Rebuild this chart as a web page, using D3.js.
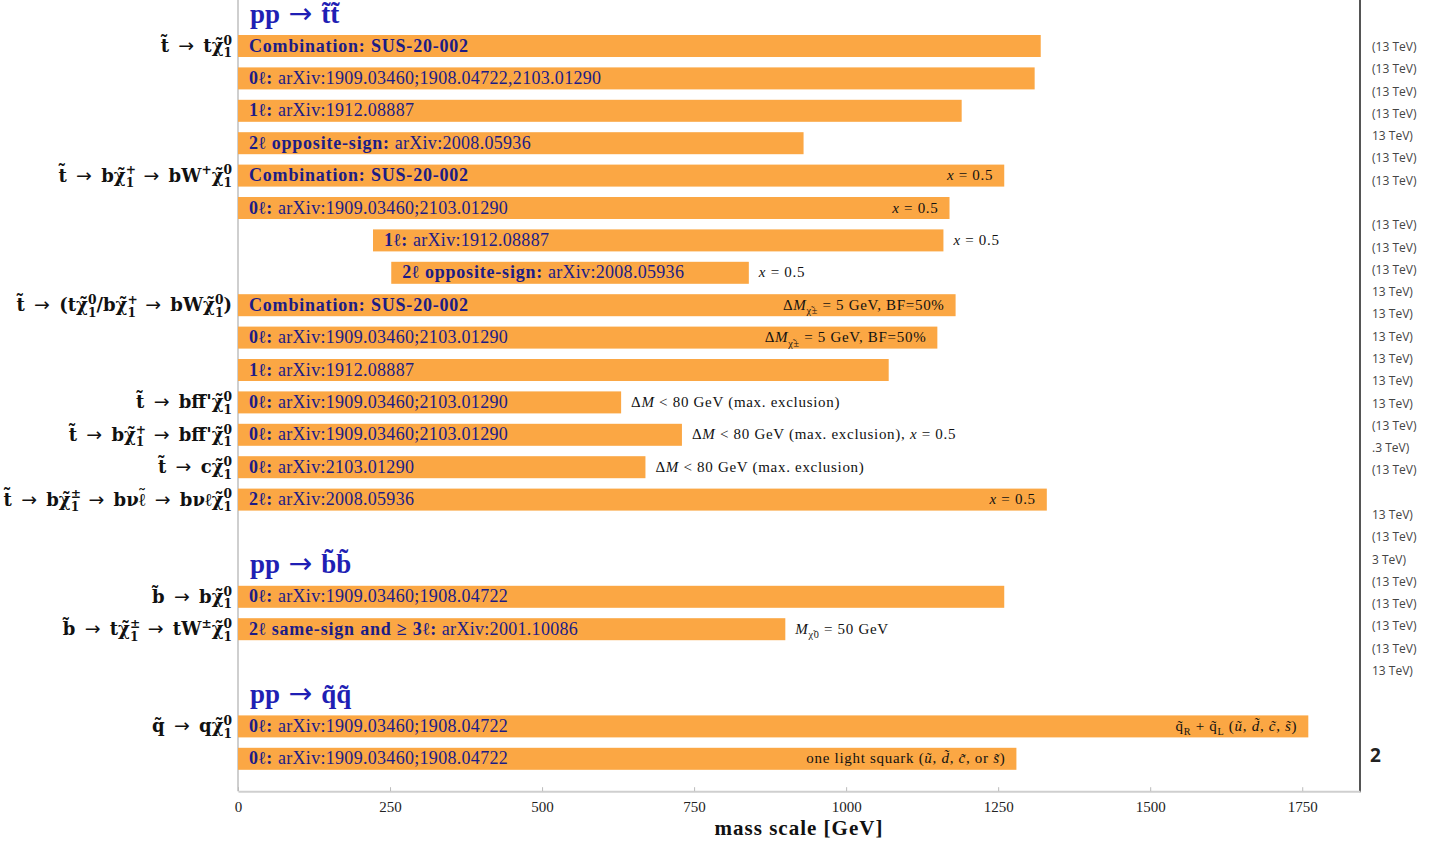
<!DOCTYPE html>
<html>
<head>
<meta charset="utf-8">
<script src="https://cdn.jsdelivr.net/npm/d3@7"></script>
<style>
  html, body { margin: 0; padding: 0; background: #fff; }
  svg { display: block; }
</style>
</head>
<body>
<script>
// ---- data -------------------------------------------------------------
// row slot of each bar (slots also hold the process headers and gaps)
const barSlots  = [1, 2, 3, 4, 5, 6, 7, 8, 9, 10, 11, 12, 13, 14, 15, 18, 19, 22, 23];
// lower and upper edge of each excluded mass range [GeV]
const barStarts = [0, 0, 0, 0, 0, 0, 222, 252, 0, 0, 0, 0, 0, 0, 0, 0, 0, 0, 0];
const barEnds   = [1320, 1310, 1190, 930, 1260, 1170, 1160, 840, 1180, 1150, 1070, 630, 730, 670, 1330, 1260, 900, 1760, 1280];
const barTagBold = [
  "Combination: SUS-20-002", "0ℓ:", "1ℓ:", "2ℓ opposite-sign:",
  "Combination: SUS-20-002", "0ℓ:", "1ℓ:", "2ℓ opposite-sign:",
  "Combination: SUS-20-002", "0ℓ:", "1ℓ:",
  "0ℓ:", "0ℓ:", "0ℓ:", "2ℓ:",
  "0ℓ:", "2ℓ same-sign and ≥ 3ℓ:",
  "0ℓ:", "0ℓ:"
];
const barRefs = [
  "", " arXiv:1909.03460;1908.04722,2103.01290", " arXiv:1912.08887", " arXiv:2008.05936",
  "", " arXiv:1909.03460;2103.01290", " arXiv:1912.08887", " arXiv:2008.05936",
  "", " arXiv:1909.03460;2103.01290", " arXiv:1912.08887",
  " arXiv:1909.03460;2103.01290", " arXiv:1909.03460;2103.01290", " arXiv:2103.01290", " arXiv:2008.05936",
  " arXiv:1909.03460;1908.04722", " arXiv:2001.10086",
  " arXiv:1909.03460;1908.04722", " arXiv:1909.03460;1908.04722"
];
// extra conditions ("in" = right-aligned inside the bar, "out" = after the bar)
const barNotes = [
  "", "", "", "",
  "|x| = 0.5", "|x| = 0.5", "|x| = 0.5", "|x| = 0.5",
  "Δ|M|_{χ̃±} = 5 GeV, BF=50%", "Δ|M|_{χ̃±} = 5 GeV, BF=50%", "",
  "Δ|M| < 80 GeV (max. exclusion)", "Δ|M| < 80 GeV (max. exclusion), |x| = 0.5", "Δ|M| < 80 GeV (max. exclusion)", "|x| = 0.5",
  "", "|M|_{χ̃0} = 50 GeV",
  "q̃_{R} + q̃_{L} (|ũ|, |d̃|, |c̃|, |s̃|)", "one light squark (|ũ|, |d̃|, |c̃|, or |s̃|)"
];
const notePlace = [
  "", "", "", "",
  "in", "in", "out", "out",
  "in", "in", "",
  "out", "out", "out", "in",
  "", "out",
  "in", "in"
];

// decay chains on the left (~{c} puts a tilde over c)
const decaySlots = [1, 5, 9, 12, 13, 14, 15, 18, 19, 22];
const decayLabels = [
  "t̃ → tχ̃^{0}_{1}",
  "t̃ → bχ̃^{+}_{1} → bW^{+}χ̃^{0}_{1}",
  "t̃ → (tχ̃^{0}_{1}/bχ̃^{+}_{1} → bWχ̃^{0}_{1})",
  "t̃ → bff̄'χ̃^{0}_{1}",
  "t̃ → bχ̃^{+}_{1} → bff̄'χ̃^{0}_{1}",
  "t̃ → cχ̃^{0}_{1}",
  "t̃ → bχ̃^{±}_{1} → bν~{ℓ} → bνℓχ̃^{0}_{1}",
  "b̃ → bχ̃^{0}_{1}",
  "b̃ → tχ̃^{±}_{1} → tW^{±}χ̃^{0}_{1}",
  "q̃ → qχ̃^{0}_{1}"
];

// production processes
const headerSlots  = [0, 17, 21];
const headerLabels = ["pp → t̃t̃", "pp → b̃b̃", "pp → q̃q̃"];

// x axis
const massTicks = [0, 250, 500, 750, 1000, 1250, 1500, 1750];
const massMax = 1845;
const slotCount = 24;

// energy labels in the right margin (null = empty line)
const energyLabels = [
  "(13 TeV)", "(13 TeV)", "(13 TeV)", "(13 TeV)", "13 TeV)", "(13 TeV)", "(13 TeV)", null,
  "(13 TeV)", "(13 TeV)", "(13 TeV)", "13 TeV)", "13 TeV)", "13 TeV)", "13 TeV)", "13 TeV)",
  "13 TeV)", "(13 TeV)", ".3 TeV)", "(13 TeV)", null,
  "13 TeV)", "(13 TeV)", "3 TeV)", "(13 TeV)", "(13 TeV)", "(13 TeV)", "(13 TeV)", "13 TeV)"
];
const pageMark = "2";

// ---- drawing ----------------------------------------------------------
const W = 1431, H = 843;
const SERIF = "'Liberation Serif', 'DejaVu Serif', serif";
const MATH = "'DejaVu Serif', 'Liberation Serif', serif";
const ARROW = "'DejaVu Sans', sans-serif";
const SANS = "'Open Sans', 'DejaVu Sans', sans-serif";
const BAR = "#fba744";
const INK_BLUE = "#1c1c86";
const HEAD_BLUE = "#1f1fb4";

const svg = d3.select("body").append("svg").attr("width", W).attr("height", H);

const x = d3.scaleLinear().domain([0, massMax]).range([238, 1360]);
const y = d3.scaleLinear().domain([0, slotCount]).range([13.6, 791.2]);
const barH = 22;

// small markup: ^{..} superscript, _{..} subscript (stacked when following ^{..}),
// |..| italic, ~{c} tilde accent; arrows are set in a sans face so they come out long and thin
function rich(textSel, str, size, arrowGap) {
  const re = /\^\{([^}]*)\}(?:_\{([^}]*)\})?|_\{([^}]*)\}|\|([^|]*)\||~\{([^}]*)\}|([^\^_|~]+)/g;
  let cur = 0, m, pendingDx = 0;
  const small = size * 0.68;
  function span(txt, off, fs, opts) {
    opts = opts || {};
    const t = textSel.append("tspan").text(txt);
    if (off !== cur) t.attr("dy", off - cur);
    if (fs) t.attr("font-size", fs);
    if (opts.italic) t.attr("font-style", "italic");
    const dx = (opts.dx || 0) + pendingDx;
    pendingDx = 0;
    if (dx) t.attr("dx", dx);
    if (opts.family) t.attr("font-family", opts.family);
    if (opts.weight) t.attr("font-weight", opts.weight);
    cur = off;
    return t;
  }
  function plain(s) {
    s.split("→").forEach((part, k) => {
      if (k > 0) {
        span("→", 0, size * 1.05, { family: ARROW, weight: "normal", dx: arrowGap || 0 });
        pendingDx = arrowGap || 0;
      }
      if (part) span(part, 0);
    });
  }
  while ((m = re.exec(str)) !== null) {
    if (m[6] !== undefined) {
      plain(m[6]);
    } else if (m[4] !== undefined) {
      span(m[4], 0, null, { italic: true });
    } else if (m[5] !== undefined) {
      const base = span(m[5], 0);
      const wc = base.node().getComputedTextLength();
      const lift = -size * 0.22;
      const acc = span("˜", lift, null, { family: ARROW, weight: "normal" });
      const wt = acc.node().getComputedTextLength();
      acc.attr("dx", -(wc + wt) / 2);
      pendingDx = (wc - wt) / 2;
    } else if (m[1] !== undefined) {
      const sup = span(m[1], -size * 0.4, small);
      if (m[2] !== undefined) {
        const w = sup.node().getComputedTextLength();
        span(m[2], size * 0.3, small, { dx: -w });
      }
    } else if (m[3] !== undefined) {
      span(m[3], size * 0.3, small);
    }
  }
}

// frame lines
svg.append("line").attr("x1", x(0)).attr("x2", x(0)).attr("y1", 0).attr("y2", y(slotCount))
  .attr("stroke", "#cfcfcf").attr("stroke-width", 2);
svg.append("line").attr("x1", x(massMax)).attr("x2", x(massMax)).attr("y1", 0).attr("y2", y(slotCount) + 1)
  .attr("stroke", "#555").attr("stroke-width", 2);

// bars
const rows = barSlots.map((s, i) => ({
  slot: s, start: barStarts[i], end: barEnds[i],
  bold: barTagBold[i], ref: barRefs[i], note: barNotes[i], place: notePlace[i]
}));

const g = svg.append("g");
g.selectAll("rect.bar").data(rows).join("rect")
  .attr("class", "bar")
  .attr("x", d => x(d.start))
  .attr("y", d => y(d.slot) - barH / 2)
  .attr("width", d => x(d.end) - x(d.start))
  .attr("height", barH)
  .attr("fill", BAR);

// analysis labels on the bars
g.selectAll("text.ref").data(rows).join("text")
  .attr("class", "ref")
  .attr("x", d => x(d.start) + 11)
  .attr("y", d => y(d.slot) + 5.5)
  .attr("font-family", SERIF)
  .attr("font-size", 18)
  .attr("fill", INK_BLUE)
  .each(function (d) {
    const t = d3.select(this);
    t.append("tspan").attr("font-weight", "bold").attr("letter-spacing", 0.8).text(d.bold);
    if (d.ref) t.append("tspan").attr("letter-spacing", 0.3).text(d.ref);
  });

// conditions
rows.filter(d => d.note).forEach(d => {
  const inside = d.place === "in";
  const t = g.append("text")
    .attr("x", inside ? x(d.end) - 11 : x(d.end) + 10)
    .attr("y", y(d.slot) + 4.5)
    .attr("text-anchor", inside ? "end" : "start")
    .attr("font-family", SERIF)
    .attr("font-size", 15)
    .attr("letter-spacing", 0.7)
    .attr("fill", "#111");
  rich(t, d.note, 15);
});

// decay chains
decaySlots.forEach((s, i) => {
  const t = svg.append("text")
    .attr("x", 232).attr("y", y(s) + 6)
    .attr("text-anchor", "end")
    .attr("font-family", MATH)
    .attr("font-weight", "bold")
    .attr("font-size", 18)
    .attr("fill", "#111");
  rich(t, decayLabels[i], 18, 3);
});

// production headers
headerSlots.forEach((s, i) => {
  const t = svg.append("text")
    .attr("x", 250).attr("y", y(s) + 9)
    .attr("font-family", SERIF)
    .attr("font-weight", "bold")
    .attr("font-size", 27)
    .attr("fill", HEAD_BLUE);
  rich(t, headerLabels[i], 27, 2);
});

// x axis
const axis = svg.append("g").attr("transform", `translate(0,${y(slotCount)})`)
  .call(d3.axisBottom(x).tickValues(massTicks).tickFormat(d3.format("d"))
    .tickSizeInner(-4).tickSizeOuter(0).tickPadding(10));
axis.select(".domain").attr("stroke", "#cfcfcf").attr("stroke-width", 2);
axis.selectAll(".tick line").attr("stroke", "#bbb");
axis.selectAll(".tick text").attr("font-family", SERIF).attr("font-size", 15).attr("fill", "#222");

svg.append("text")
  .attr("x", (x(0) + x(massMax)) / 2).attr("y", 835)
  .attr("text-anchor", "middle")
  .attr("font-family", SERIF).attr("font-weight", "bold").attr("font-size", 21)
  .attr("letter-spacing", 1)
  .attr("fill", "#111")
  .text("mass scale [GeV]");

// right margin
const ey = d3.scaleLinear().domain([0, energyLabels.length - 1]).range([47, 671]);
svg.append("g").selectAll("text").data(energyLabels.map((t, i) => ({ t, i })).filter(d => d.t))
  .join("text")
  .attr("x", 1372).attr("y", d => ey(d.i) + 4)
  .attr("font-family", SANS).attr("font-size", 12).attr("fill", "#444")
  .text(d => d.t);

svg.append("text")
  .attr("x", 1370).attr("y", 762)
  .attr("font-family", SANS).attr("font-weight", "bold").attr("font-size", 19).attr("fill", "#222")
  .text(pageMark);
</script>
</body>
</html>
